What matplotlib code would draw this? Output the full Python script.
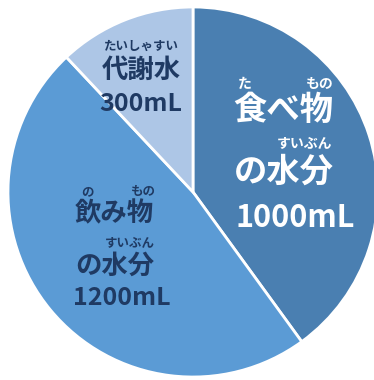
import matplotlib

matplotlib.use("Agg")

import matplotlib.pyplot as plt

plt.rcParams["font.family"] = ["Noto Sans CJK JP", "DejaVu Sans"]

# 1日に体に入る水分 (mL)
sources = ["食べ物の水分", "飲み物の水分", "代謝水"]
amounts = [1000, 1200, 300]
colors = ["#4a7fb1", "#5b9bd5", "#adc6e6"]

NAVY = "#1f3a63"
WHITE = "#ffffff"
H = 380

fig = plt.figure(figsize=(3.74, 3.80), dpi=100)
ax = fig.add_axes([0, 0, 1, 1])

ax.pie(
    amounts,
    colors=colors,
    startangle=90,
    counterclock=False,
    center=(193, H - 192),
    radius=185,
    wedgeprops={"edgecolor": "white", "linewidth": 2},
    frame=True,
)
ax.set_xlim(0, 374)
ax.set_ylim(0, H)
ax.set_aspect("equal")
ax.axis("off")


def label(x, y, s, size, color):
    # y is measured from the top of the picture
    ax.text(x, H - y, s, ha="center", va="center", fontsize=size,
            fontweight="bold", color=color)


# 食べ物の水分
label(245, 84, "た", 10, WHITE)
label(320, 84, "もの", 10, WHITE)
label(283, 110, "食べ物", 24, WHITE)
label(305, 144, "すいぶん", 10, WHITE)
label(284, 172, "の水分", 24, WHITE)
label(295, 218, f"{amounts[0]}mL", 22, WHITE)

# 飲み物の水分
label(87, 192, "の", 9, NAVY)
label(143, 192, "もの", 9, NAVY)
label(114, 214, "飲み物", 19, NAVY)
label(130, 243, "すいぶん", 9, NAVY)
label(115, 266, "の水分", 19, NAVY)
label(122, 298, f"{amounts[1]}mL", 18, NAVY)

# 代謝水
label(141, 46, "たいしゃすい", 9, NAVY)
label(141, 70, "代謝水", 19, NAVY)
label(141, 104, f"{amounts[2]}mL", 18, NAVY)

fig.savefig("out.png", dpi=100)
